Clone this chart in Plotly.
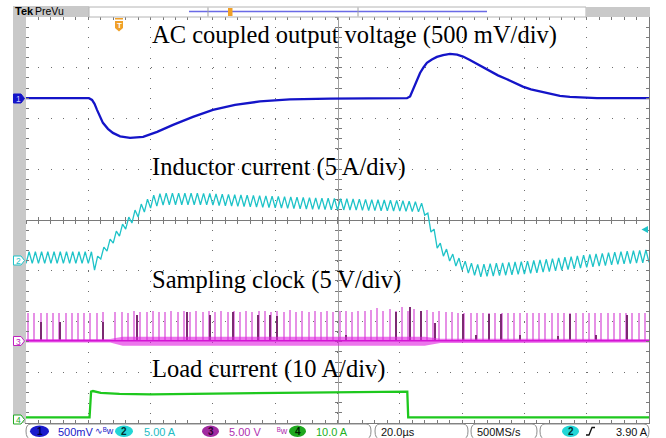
import plotly.graph_objects as go

W, H = 666, 438

# ---------------- data ----------------
# horizontal: 20 us/div, 10 divisions -> 0..200 us
# Ch1: AC coupled output voltage, mV
vout_t_us = [0, 20.2, 21.2, 22.0, 22.8, 23.8, 24.7, 26.3, 27.9, 30.2, 33.4, 37.6, 42.1,
             47.2, 53.6, 60.0, 67.1, 75.1, 84.7, 97.6, 122.3,
             123.3, 124.2, 125.4, 126.5, 127.6, 128.7, 130.3, 131.9, 133.9, 136.1, 138.4,
             140.3, 142.5, 144.8, 147.0, 148.9, 151.5, 154.4, 156.9, 159.5, 162.1, 165.0,
             168.2, 171.4, 174.6, 177.8, 183.3, 200]
vout_mv = [0, 0, -17, -56, -115, -184, -243, -302, -342, -376, -391, -381, -332,
           -263, -184, -115, -66, -32, -12, -4, 0,
           18, 82, 170, 249, 303, 348, 382, 407, 425, 436, 429,
           410, 377, 338, 296, 262, 225, 187, 151, 114, 87, 65,
           42, 23, 13, 7, 1, 0]

# Ch2: inductor current, A, one ripple vertex per microsecond (t = 0..200 us)
il_amps = [
    -0.33, 0.82, -0.33, 0.82, -0.33, 0.82, -0.33, 0.82, -0.33, 0.82,
    -0.33, 0.82, -0.33, 0.82, -0.33, 0.82, -0.33, 0.82, -0.33, 0.82,
    -0.33, 0.82, -0.99, 0.39, 0.10, 1.28, 0.89, 2.07, 1.67, 2.86,
    2.36, 3.55, 3.05, 4.24, 3.65, 4.93, 4.24, 5.52, 4.73, 6.01,
    5.12, 6.40, 5.32, 6.55, 5.42, 6.60, 5.45, 6.60, 5.45, 6.60,
    5.45, 6.60, 5.45, 6.60, 5.45, 6.60, 5.45, 6.58, 5.44, 6.56,
    5.42, 6.52, 5.38, 6.50, 5.35, 6.48, 5.33, 6.45, 5.30, 6.43,
    5.28, 6.40, 5.25, 6.38, 5.23, 6.35, 5.20, 6.33, 5.18, 6.30,
    5.15, 6.28, 5.13, 6.25, 5.10, 6.23, 5.08, 6.20, 5.05, 6.18,
    5.03, 6.15, 5.01, 6.13, 5.00, 6.11, 4.98, 6.10, 4.96, 6.08,
    4.95, 6.06, 4.94, 6.04, 4.93, 6.02, 4.92, 6.00, 4.90, 5.98,
    4.89, 5.96, 4.88, 5.94, 4.86, 5.92, 4.85, 5.90, 4.84, 5.88,
    4.82, 5.85, 4.80, 5.80, 4.78, 5.75, 4.75, 5.61, 4.43, 4.63,
    2.76, 3.05, 1.18, 1.67, 0.39, 1.08, -0.10, 0.59, -0.59, 0.20,
    -0.99, -0.10, -1.28, -0.30, -1.50, -0.43, -1.65, -0.39, -1.61, -0.35,
    -1.57, -0.31, -1.53, -0.27, -1.49, -0.23, -1.45, -0.19, -1.41, -0.15,
    -1.37, -0.10, -1.31, -0.04, -1.25, 0.02, -1.19, 0.08, -1.13, 0.14,
    -1.07, 0.21, -1.00, 0.28, -0.93, 0.35, -0.86, 0.42, -0.79, 0.49,
    -0.72, 0.55, -0.66, 0.61, -0.60, 0.67, -0.54, 0.73, -0.48, 0.79,
    -0.42, 0.84, -0.38, 0.88, -0.34, 0.92, -0.30, 0.96, -0.26, 1.00,
    -0.22,
]

# Ch3: sampling clock, V. Pulse heights, one pulse every 2 us starting at 0.75 us
clk_pulse_v = [
    2.70, 2.75, 2.70, 2.75, 2.70, 2.75, 2.70, 2.75, 2.70, 2.75,
    2.70, 2.75, 2.80, 0.00, 2.80, 2.85, 2.75, 2.90, 2.80, 2.85,
    2.90, 2.80, 2.85, 2.90, 2.80, 2.95, 2.85, 2.90, 2.80, 2.95,
    2.85, 2.90, 2.80, 2.95, 2.85, 2.90, 2.80, 2.95, 2.90, 2.85,
    2.90, 2.85, 3.00, 2.85, 2.90, 2.80, 2.95, 2.85, 2.90, 2.80,
    2.95, 2.90, 2.85, 2.90, 2.95, 3.00, 3.20, 2.95, 3.10, 2.90,
    3.30, 2.90, 3.10, 2.85, 3.00, 2.80, 2.90, 2.85, 2.80, 2.75,
    2.70, 2.75, 2.70, 2.75, 2.70, 2.75, 2.70, 2.75, 2.70, 2.75,
    2.70, 2.75, 2.70, 2.75, 2.70, 2.75, 2.70, 2.75, 2.70, 2.75,
    2.70, 2.75, 2.70, 2.75, 2.70, 2.75, 2.70, 2.75, 2.70, 2.75,
]
clk_dark_t_us = [4.8, 10.9, 24.7, 35.6, 51.7, 59.1, 66.5, 74.5, 78.3, 80.6, 102.7,
                 118.8, 123.3, 126.8, 131.3, 140.3, 144.4, 148.6, 152.5, 158.5,
                 170.7, 174.6, 182.9, 192.9]
clk_dark_v = [1.9, 1.9, 1.9, 2.55, 2.8, 2.55, 2.8, 2.55, 2.55, 2.4, 0.6,
              2.8, 3.3, 2.9, 1.8, 2.6, 0.55, 2.6, 2.65, 0.55,
              0.5, 2.65, 0.55, 2.55]
clk_noise_t_us = [0, 27, 31, 128, 133, 200]
clk_noise_hi_v = [0.18, 0.18, 0.4, 0.4, 0.2, 0.18]
clk_noise_lo_v = [-0.18, -0.18, -0.5, -0.5, -0.22, -0.18]

# Ch4: load current, A
iload_t_us = [0, 20.4, 20.9, 21.5, 24, 30, 40, 50, 70, 90, 100, 122.4, 122.7, 200]
iload_amps = [0, 0, 5.1, 5.2, 4.85, 4.65, 4.55, 4.6, 4.75, 4.9, 5.0, 5.1, 0, 0]

# channel settings: units-per-div and ground-marker position (divisions from centre)
ch_scale = {1: 500.0, 2: 5.0, 3: 5.0, 4: 10.0}
ch_offset = {1: 2.40, 2: -0.79, 3: -2.38, 4: -3.89}

labels = ["AC coupled output voltage (500 mV/div)", "Inductor current (5 A/div)",
          "Sampling clock (5 V/div)", "Load current (10 A/div)"]

# ---------------- styling ----------------
C1, C2, C3, C4 = "#1414c8", "#1ec3c8", "#e01ee0", "#1ec81e"
GX0, GX1, GY0, GY1 = 26, 649, 17, 423


def px(x):
    return x / W


def py(y):
    return 1 - y / H


def div(ch, vals):
    return [ch_offset[ch] + v / ch_scale[ch] for v in vals]


fig = go.Figure()

# Ch3 noise band
fig.add_trace(go.Scatter(x=clk_noise_t_us, y=div(3, clk_noise_lo_v), mode="lines",
                         line=dict(width=0, color=C3), hoverinfo="skip"))
fig.add_trace(go.Scatter(x=clk_noise_t_us, y=div(3, clk_noise_hi_v), mode="lines",
                         line=dict(width=0, color=C3), fill="tonexty",
                         fillcolor="rgba(224,34,224,0.62)", hoverinfo="skip"))
fig.add_trace(go.Scatter(x=[clk_noise_t_us[0], clk_noise_t_us[-1]], y=div(3, [0, 0]),
                         mode="lines", line=dict(width=1.6, color="#d414d4"),
                         hoverinfo="skip"))
# Ch3 pulses
fig.add_trace(go.Bar(x0=0.75, dx=2, y=[v / ch_scale[3] for v in clk_pulse_v],
                     base=ch_offset[3], width=0.42, marker=dict(color="#e690e6", line_width=0),
                     hoverinfo="skip"))
fig.add_trace(go.Bar(x=clk_dark_t_us, y=[v / ch_scale[3] for v in clk_dark_v],
                     base=ch_offset[3], width=0.3, marker=dict(color="#7c2a72", line_width=0),
                     hoverinfo="skip"))

# Ch1
fig.add_trace(go.Scatter(x=vout_t_us, y=div(1, vout_mv), mode="lines",
                         line=dict(color=C1, width=2.3), hoverinfo="skip"))
# Ch2
fig.add_trace(go.Scatter(x0=0, dx=1, y=div(2, il_amps), mode="lines",
                         line=dict(color=C2, width=1.3), hoverinfo="skip"))
# Ch4
fig.add_trace(go.Scatter(x=iload_t_us, y=div(4, iload_amps), mode="lines",
                         line=dict(color=C4, width=2.3), hoverinfo="skip"))

# dummy traces to realise the centre-line axes
for xa, ya in [("x2", "y"), ("x3", "y"), ("x", "y2"), ("x", "y3")]:
    fig.add_trace(go.Scatter(x=[None], y=[None], xaxis=xa, yaxis=ya, hoverinfo="skip"))

xdom = [px(GX0), px(GX1)]
ydom = [py(GY1), py(GY0)]
GRID = "#6e6e6e"
LINE = "#7a7a7a"

common_x = dict(range=[0, 200], domain=xdom, showticklabels=False, zeroline=False,
                fixedrange=True)
common_y = dict(range=[-4, 4], domain=ydom, showticklabels=False, zeroline=False,
                fixedrange=True)

fig.update_layout(
    width=W, height=H, margin=dict(l=0, r=0, t=0, b=0),
    paper_bgcolor="white", plot_bgcolor="white", showlegend=False,
    barmode="overlay", bargap=0,
    xaxis=dict(**common_x, showgrid=True, gridcolor=GRID, gridwidth=1,
               griddash="1px,9.15px", dtick=20, tick0=0, ticks="inside", ticklen=3,
               tickcolor=LINE, minor=dict(ticks="inside", dtick=4, ticklen=3, tickcolor=LINE,
                                          showgrid=False),
               showline=True, linecolor=LINE, linewidth=1, mirror="allticks"),
    yaxis=dict(**common_y, showgrid=True, gridcolor=GRID, gridwidth=1,
               griddash="1px,11.46px", dtick=1, tick0=0, ticks="inside", ticklen=3,
               tickcolor=LINE, minor=dict(ticks="inside", dtick=0.2, ticklen=3, tickcolor=LINE,
                                          showgrid=False),
               showline=True, linecolor=LINE, linewidth=1, mirror="allticks"),
    xaxis2=dict(**common_x, overlaying="x", anchor="free", position=(ydom[0] + ydom[1]) / 2,
                showgrid=False, showline=True, linecolor=LINE, ticks="inside", ticklen=3,
                dtick=4, tickcolor=LINE, layer="below traces"),
    xaxis3=dict(**common_x, overlaying="x", anchor="free", position=(ydom[0] + ydom[1]) / 2,
                showgrid=False, showline=False, ticks="outside", ticklen=3,
                dtick=4, tickcolor=LINE, layer="below traces"),
    yaxis2=dict(**common_y, overlaying="y", anchor="free", position=(xdom[0] + xdom[1]) / 2,
                showgrid=False, showline=True, linecolor="#a0a0a0", ticks="inside", ticklen=3,
                dtick=0.2, tickcolor=LINE, layer="below traces"),
    yaxis3=dict(**common_y, overlaying="y", anchor="free", position=(xdom[0] + xdom[1]) / 2,
                showgrid=False, showline=False, ticks="outside", ticklen=3,
                dtick=0.2, tickcolor=LINE, layer="below traces"),
)

shapes = []
ann = []


def rect(x0, y0, x1, y1, fill=None, line=None, lw=1):
    shapes.append(dict(type="rect", xref="paper", yref="paper", x0=px(x0), x1=px(x1),
                       y0=py(y1), y1=py(y0), fillcolor=fill or "rgba(0,0,0,0)",
                       line=dict(color=line or "rgba(0,0,0,0)", width=lw if line else 0)))


def path(pts, fill=None, line=None, lw=1, close=True):
    d = "M" + " L".join(f"{px(x):.5f},{py(y):.5f}" for x, y in pts) + (" Z" if close else "")
    shapes.append(dict(type="path", xref="paper", yref="paper", path=d,
                       fillcolor=fill or "rgba(0,0,0,0)",
                       line=dict(color=line or "rgba(0,0,0,0)", width=lw if line else 0)))


def text(x, y, s, size=10, color="black", family="Liberation Sans", xanchor="left",
         bold=False):
    if bold:
        s = f"<b>{s}</b>"
    ann.append(dict(xref="paper", yref="paper", x=px(x), y=py(y), text=s, showarrow=False,
                    xanchor=xanchor, yanchor="middle", borderpad=0,
                    font=dict(size=size, color=color, family=family)))


def ellipse(x0, x1, y0, y1, fill):
    shapes.append(dict(type="circle", xref="paper", yref="paper", x0=px(x0), x1=px(x1),
                       y0=py(y1), y1=py(y0), fillcolor=fill, line=dict(width=0)))


# left gray strip
rect(13, GY0, GX0, GY1, fill="#c9c9c9")
# top bar
rect(13, 6, 89, 17, fill="#c9c9c9")
rect(89, 7, 586, 17, fill="white", line="#b4b4b4")
rect(586, 7, 650, 17, fill="#c9c9c9")
path([(189, 11.5), (487, 11.5)], line="#6a6ae6", lw=1.5, close=False)
path([(208, 7.5), (208, 16.5)], line="#a0a0a0", lw=1, close=False)
path([(358, 7.5), (358, 16.5)], line="#a0a0a0", lw=1, close=False)
rect(228, 8, 232.5, 16, fill="#f0a028")
text(14, 11.5, "Tek", size=11, bold=True)
text(34, 11.5, "PreVu", size=10.5)

# trigger position marker
rect(115, 18, 123, 19.5, fill="#f0a028")
path([(115, 21), (123, 21), (123, 28), (119, 31.5), (115, 28)], fill="#f0a028")
text(119, 25.5, "T", size=8, color="white", xanchor="center", bold=True)

# trigger level arrow (right)
path([(641.5, 229.5), (648, 226), (648, 233)], fill=C2)

# channel ground markers
for ch, yc, col, filled in [(1, 98.5, C1, True), (2, 260.5, C2, False),
                            (3, 341, "#c020c0", False), (4, 419.5, "#22aa22", False)]:
    pts = [(13.5, yc - 4.5), (21, yc - 4.5), (24.5, yc), (21, yc + 4.5), (13.5, yc + 4.5)]
    path(pts, fill=col if filled else "white", line=col, lw=1)
    text(18, yc + 0.5, str(ch), size=8.5, color="#c8c8ff" if filled else col,
         xanchor="center")

# waveform labels
for (lx, ly), s in zip([(151, 35.5), (151, 167.5), (151, 279.5), (151, 368.5)], labels):
    text(lx, ly, s, size=24.5, family="Liberation Serif")

# bottom status bar
for x0, x1 in [(26, 371), (375, 468), (471, 537), (540, 649)]:
    r = 5
    d = (f"M{px(x0 + r)},{py(424)} L{px(x1 - r)},{py(424)} "
         f"Q{px(x1)},{py(424)} {px(x1)},{py(431)} Q{px(x1)},{py(439)} {px(x1 - r)},{py(439)} "
         f"L{px(x0 + r)},{py(439)} Q{px(x0)},{py(439)} {px(x0)},{py(431)} "
         f"Q{px(x0)},{py(424)} {px(x0 + r)},{py(424)} Z")
    shapes.append(dict(type="path", xref="paper", yref="paper", path=d,
                       line=dict(color="#8c8c8c", width=1)))

ellipse(30, 49, 425.5, 437, "#1a1acc")
text(39.5, 431.5, "1", size=10, color="#000040", xanchor="center", bold=True)
text(57, 431.5, "500mV", size=11, color="#2020c8")
text(94, 431, "∿ᴮw", size=9, color="#2020c8")
ellipse(115, 133, 425.5, 437, "#22d6d6")
text(124, 431.5, "2", size=10, color="#003030", xanchor="center", bold=True)
text(143, 431.5, "5.00 A", size=11, color="#22bcc4")
ellipse(202, 219, 425.5, 437, "#a02aa0")
text(210.5, 431.5, "3", size=10, color="#300030", xanchor="center", bold=True)
text(228, 431.5, "5.00 V", size=11, color="#b030b0")
text(276, 431, "ᴮw", size=9, color="#b030b0")
ellipse(289, 306, 425.5, 437, "#1fa81f")
text(297.5, 431.5, "4", size=10, color="#002000", xanchor="center", bold=True)
text(315, 431.5, "10.0 A", size=11, color="#22b022")
text(380, 431.5, "20.0µs", size=11, color="#111111")
text(476, 431.5, "500MS/s", size=11, color="#111111")
ellipse(562, 579, 425.5, 437, "#22d6d6")
text(570.5, 431.5, "2", size=10, color="#003030", xanchor="center", bold=True)
path([(586, 435), (589, 435), (592, 427.5), (595, 427.5)], line="#111111", lw=1.3, close=False)
text(615, 431.5, "3.90 A", size=11, color="#111111")

fig.update_layout(shapes=shapes, annotations=ann)
fig.write_html("out.html")
